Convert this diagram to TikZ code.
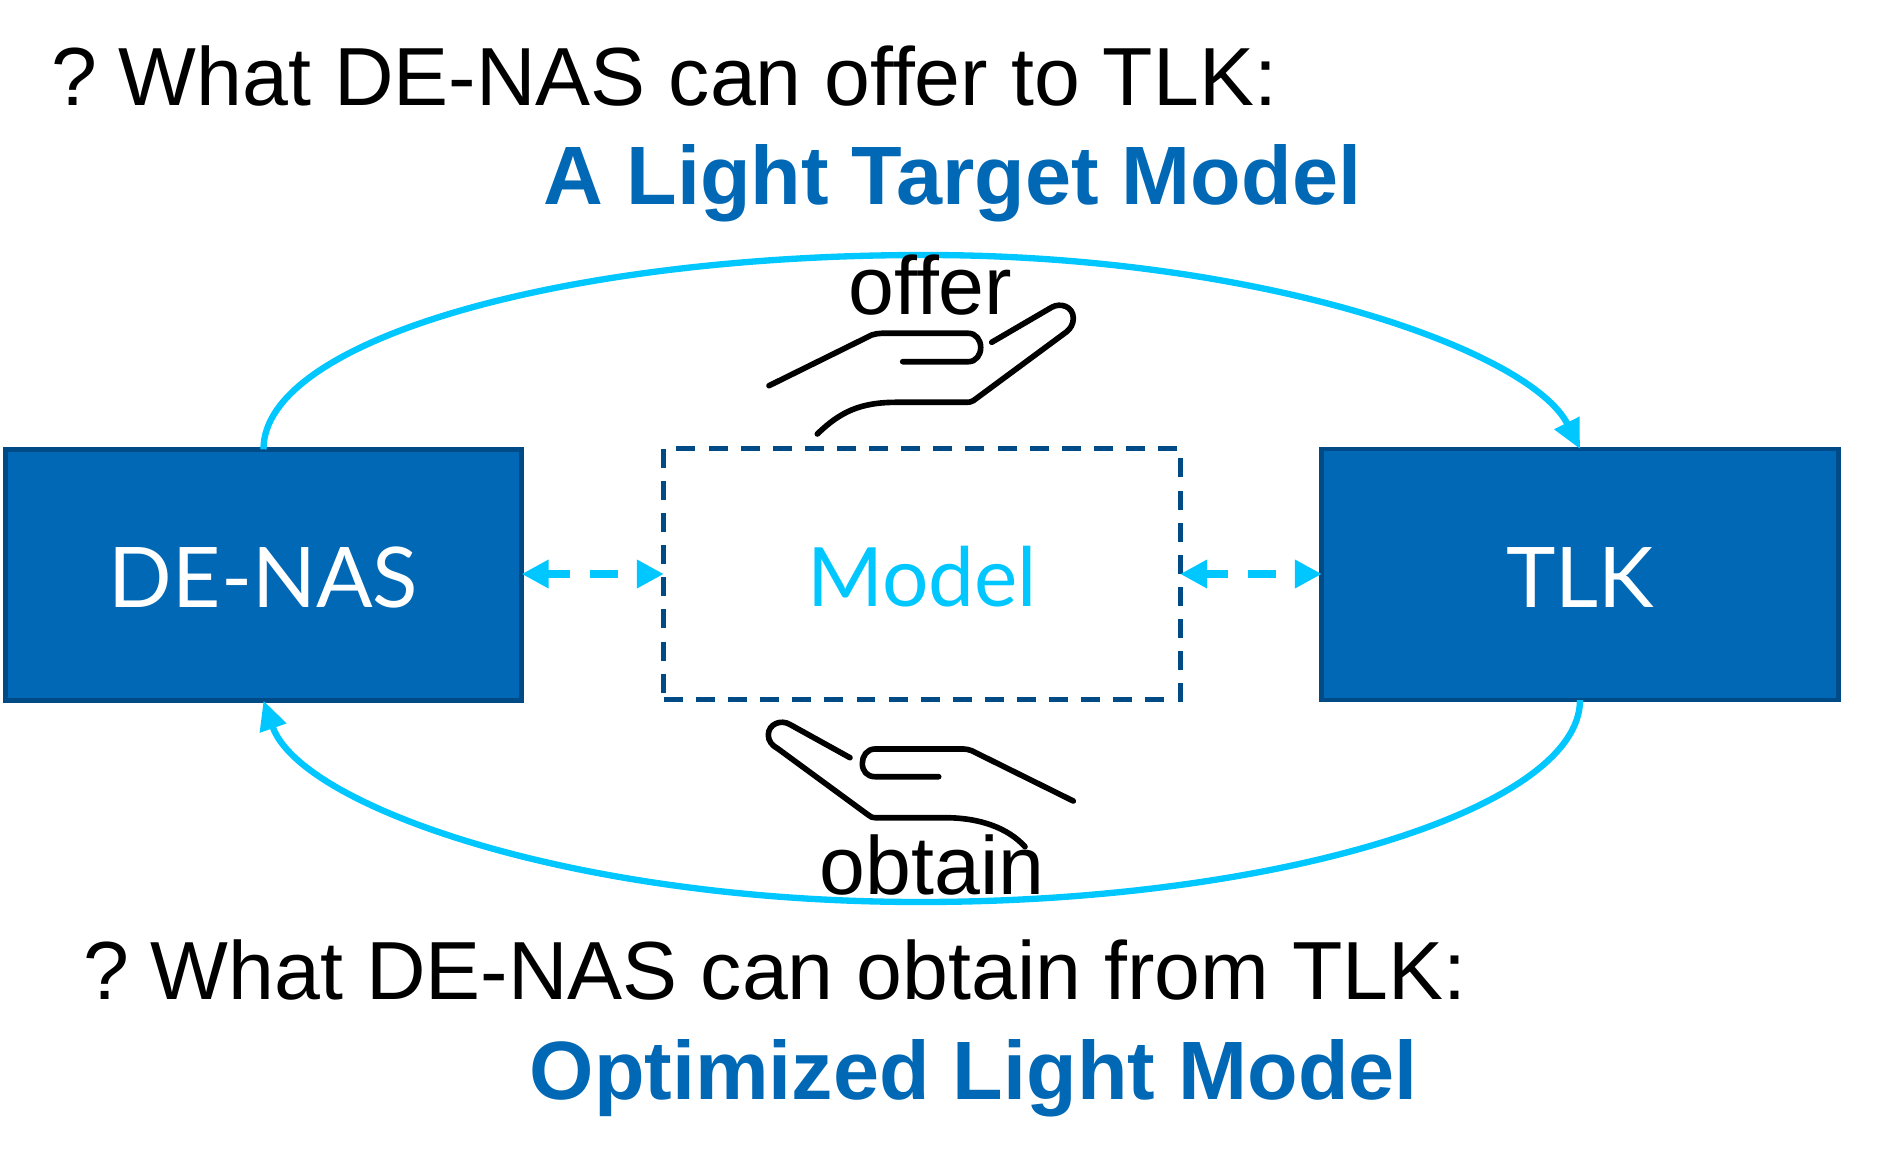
\documentclass[tikz,border=0pt]{standalone}
\usepackage{fontspec}
\setmainfont{Liberation Sans}
\newfontfamily\clearfont{Lato}
\usetikzlibrary{arrows.meta}
\definecolor{boxblue}{HTML}{0068B5}
\definecolor{darkblue}{HTML}{004A86}
\definecolor{linecyan}{HTML}{00C7FF}
\tikzset{
    mainbox/.style={draw=darkblue,fill=boxblue,line width=1.35pt,minimum width=5.16cm,minimum height=2.51cm,outer sep=0pt,inner sep=0pt,text=white,text height=18.6pt,text depth=0pt,font=\clearfont\fontsize{23.8}{26}\selectfont},
    modelbox/.style={draw=darkblue,line width=1.4pt,dash pattern=on 5.4pt off 3.73pt,minimum width=5.16cm,minimum height=2.51cm,outer sep=0pt,inner sep=0pt,text=linecyan,text height=18.6pt,text depth=0pt,font=\clearfont\fontsize{23.3}{26}\selectfont},
    loopline/.style={draw=linecyan,line width=1.8pt,-{Triangle[length=8.3pt,width=7.6pt]}},
    linkline/.style={draw=linecyan,line width=2pt,dash pattern=on 7.9pt off 5.7pt,dash phase=1.4pt,{Triangle[length=7.7pt,width=7.7pt]}-{Triangle[length=7.7pt,width=7.7pt]}},
    handline/.style={draw=black,line width=1.6pt,line cap=round,line join=round},
    plaintext/.style={anchor=base west,inner sep=0pt,font=\fontsize{23.45}{28}\selectfont},
    answertext/.style={anchor=base west,inner sep=0pt,text=boxblue,font=\bfseries\fontsize{23.55}{28}\selectfont},
}
\begin{document}
\begin{tikzpicture}[x=0.01cm,y=-0.01cm]
    \useasboundingbox (0,0) rectangle (1891,1167);

    \node[plaintext] (askoffer) at (51,106) {?\kern0.26em What DE-NAS can offer to TLK:};
    \node[answertext] (lightmodel) at (543,205) {A Light Target Model};
    \node[plaintext] (askobtain) at (83,999) {?\kern0.26em What DE-NAS can obtain from TLK:};
    \node[answertext] (optmodel) at (529,1099) {Optimized Light Model};

    \node[mainbox] (denas) at (263.5,575) {DE-NAS};
    \node[mainbox] (tlk) at (1580,574.5) {TLK};
    \node[modelbox] (model) at (922,574) {Model};

    \coordinate (toppeak) at (925,255);
    \coordinate (bottompeak) at (920,902);
    \draw[loopline] (denas.north) .. controls (263,341) and (560,255) .. (toppeak)
        .. controls (1260,255) and (1530,350) .. (tlk.north);
    \draw[loopline] (tlk.south) .. controls (1580,808) and (1280,902) .. (bottompeak)
        .. controls (570,902) and (300,805) .. (denas.south);
    \draw[linkline] (denas.east |- model.west) -- (model.west);
    \draw[linkline] (model.east) -- (tlk.west |- model.east);

    \node[plaintext] (offer) at (848,315) {offer};
    \node[plaintext] (obtain) at (819,894) {obtain};

    \draw[handline] (769,385.7) -- (871.7,335) .. controls (875,334) and (878,333.3) .. (881.7,333.3)
        -- (968.3,333.3) .. controls (976,333.3) and (980.7,340) .. (980.7,347.5)
        .. controls (980.7,355) and (976,361.7) .. (968.3,361.7) -- (902.7,361.7);
    \draw[handline] (991.7,342.3) -- (1051.7,307.3) .. controls (1060,302.5) and (1073.3,306) .. (1073.3,318.3)
        .. controls (1073.3,324) and (1070.5,328.5) .. (1066.7,331.7) -- (973.3,400.7)
        .. controls (971,402) and (969,402.3) .. (966.7,402.3) -- (896.7,402.3)
        .. controls (860,402.3) and (840,412) .. (817.3,434);
    \draw[handline] (1073.3,801) -- (971.7,750.7) .. controls (969,749.6) and (966,749) .. (963.3,749)
        -- (875,749) .. controls (867,749) and (862.3,756) .. (862.3,763.3)
        .. controls (862.3,771) and (867,776.7) .. (875,776.7) -- (938.7,776.7);
    \draw[handline] (850,757.7) -- (790,724.5) .. controls (781,719) and (768.3,724) .. (768.3,735)
        .. controls (768.3,741) and (772,745.5) .. (778.3,749) -- (868.3,815)
        .. controls (870.5,817) and (872.5,817.7) .. (875,817.7) -- (945,817.7)
        .. controls (980,817.7) and (1008,828) .. (1025,846.7);
\end{tikzpicture}
\end{document}
